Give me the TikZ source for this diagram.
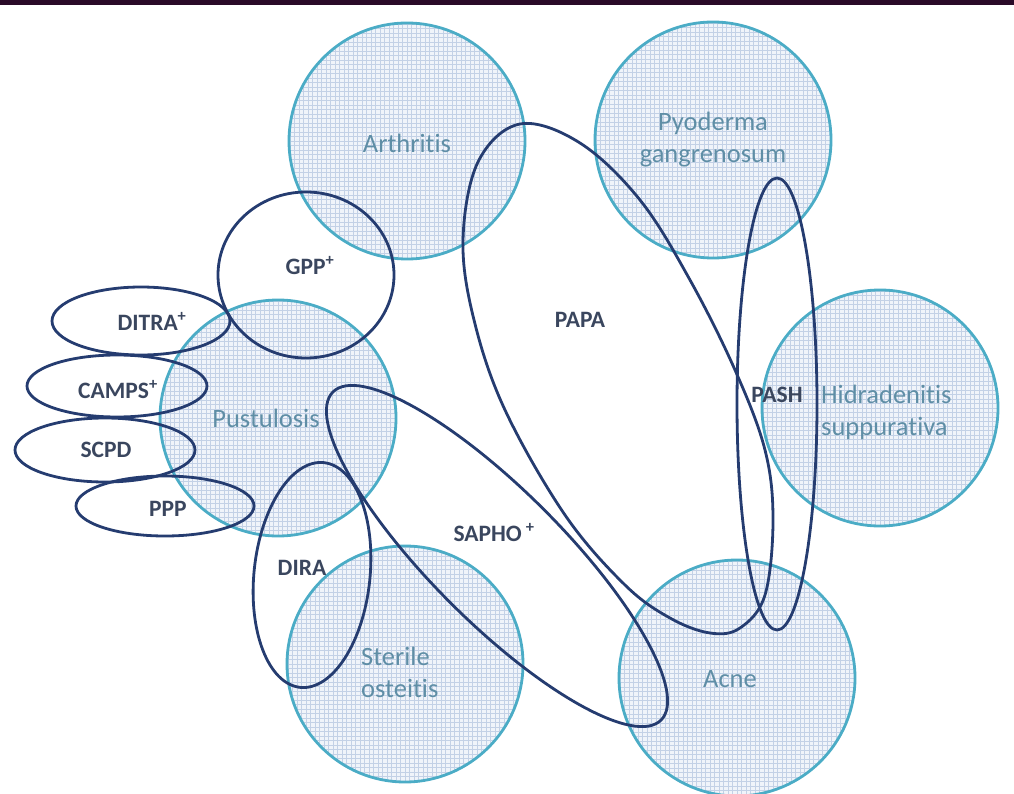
\documentclass[tikz,border=0pt]{standalone}
\usepackage{fontspec}
\setmainfont{Carlito}[Ligatures={NoCommon}]
\definecolor{topbar}{HTML}{2A0A28}
\definecolor{ringc}{HTML}{4BACC6}
\definecolor{gridbg}{HTML}{F0F4FA}
\definecolor{gridln}{HTML}{C3D1E6}
\definecolor{lightlab}{HTML}{5F8EA6}
\definecolor{synblue}{HTML}{253C70}
\definecolor{synlab}{HTML}{3A465E}
\begin{document}
\begin{tikzpicture}[x=1pt,y=-1pt,
  disease/.style={circle, draw=ringc, line width=2.8pt, fill=gridbg,
    minimum size=236pt, inner sep=0pt,
    path picture={\draw[gridln, line width=0.55pt]
      ([shift={(-2pt,-2pt)}]path picture bounding box.south west) grid[step=4.5pt]
      (path picture bounding box.north east);}},
  syn/.style={draw=synblue, line width=2.8pt},
  lab/.style={text=lightlab, font=\fontsize{26.5}{32}\selectfont, inner sep=0pt},
  slab/.style={text=synlab, font=\fontsize{23.5}{27}\selectfont\bfseries, inner sep=0pt}]
\useasboundingbox (0,0) rectangle (1014,794);
\fill[topbar] (0,0) rectangle (1014,5);
% disease circles
\node[disease] (arth) at (407,141) {};
\node[disease] (pyo) at (713,140) {};
\node[disease] (pus) at (278,418) {};
\node[disease] (hid) at (880,408) {};
\node[disease] (ste) at (405,664) {};
\node[disease] (acne) at (737,678) {};
% syndrome loops
\draw[syn] (306,275) ellipse[x radius=88pt, y radius=83pt];
\draw[syn] (141,321) ellipse[x radius=89pt, y radius=34pt];
\draw[syn] (117,386) ellipse[x radius=90pt, y radius=31pt];
\draw[syn] (105,450) ellipse[x radius=90pt, y radius=32pt];
\draw[syn] (165,506) ellipse[x radius=89pt, y radius=30pt];
\draw[syn, rotate around={-6:(312,575)}] (312,575) ellipse[x radius=58pt, y radius=113pt];
\draw[syn, rotate around={-45:(497,556)}] (497,556) ellipse[x radius=232pt, y radius=66pt];
\draw[syn] (777,404) ellipse[x radius=40pt, y radius=226pt];
\draw[syn] plot[smooth cycle, tension=0.6] coordinates {
  (520,124) (580,143) (640,200) (690,280) (735,370) (765,450) (773,520)
  (765,595) (740,628) (710,633) (670,618) (625,585) (565,515) (505,410)
  (474,320) (463,240) (478,162)};
% disease labels
\node[lab] (tarth) at (407,143) {Arthritis};
\node[lab, align=center] (tpyo) at (713,140) {Pyoderma\\gangrenosum};
\node[lab] (tpus) at (266,418) {Pustulosis};
\node[lab, align=left, anchor=west] (thid) at (821,412) {Hidradenitis\\suppurativa};
\node[lab, align=left, anchor=west] (tste) at (361,672) {Sterile\\osteitis};
\node[lab] (tacne) at (730,679) {Acne};
% syndrome labels
\node[slab] (tgpp) at (310,266) {GPP\textsuperscript{+}};
\node[slab] (tditra) at (152,321) {DITRA\textsuperscript{+}};
\node[slab] (tcamps) at (118,390) {CAMPS\textsuperscript{+}};
\node[slab] (tscpd) at (106,450) {SCPD};
\node[slab] (tppp) at (168,509) {PPP};
\node[slab] (tpapa) at (580,320) {PAPA};
\node[slab] (tpash) at (777,395) {PASH};
\node[slab] (tsapho) at (494,533) {SAPHO\,\textsuperscript{+}};
\node[slab] (tdira) at (302,568) {DIRA};
\end{tikzpicture}
\end{document}
